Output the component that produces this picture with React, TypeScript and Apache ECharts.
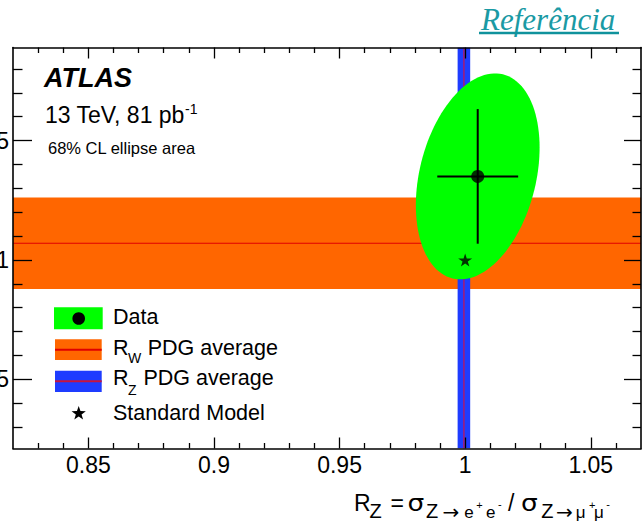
import React, { useEffect, useRef } from "react";
import * as echarts from "echarts";

// ---- data ----
const X_RANGE = [0.82, 1.07];
const Y_RANGE = [0.921, 1.089];
const X_MAJOR_TICKS = [0.85, 0.9, 0.95, 1, 1.05];
const X_MINOR_TICKS = [0.83, 0.84, 0.86, 0.87, 0.88, 0.89, 0.91, 0.92, 0.93, 0.94, 0.96, 0.97, 0.98, 0.99, 1.01, 1.02, 1.03, 1.04, 1.06];
const Y_MAJOR_TICKS = [0.95, 1, 1.05];
const Y_MINOR_TICKS = [0.93, 0.94, 0.96, 0.97, 0.98, 0.99, 1.01, 1.02, 1.03, 1.04, 1.06, 1.07, 1.08];
const DATA_POINT = [1.005, 1.035];
const DATA_ERROR = [0.0161, 0.0282];
const DATA_CORRELATION = 0.28;
const ELLIPSE_SCALE = 1.53; // 68% CL ellipse size relative to 1 sigma
const RW_PDG = [1.007, 0.0192]; // centre, half-width (y)
const RZ_PDG = [0.9995, 0.0025]; // centre, half-width (x)
const SM_POINT = [1, 1];

const FONT = '"Liberation Sans", Arial, Helvetica, sans-serif';
const DJV = '"DejaVu Sans", sans-serif';
const OFF = 60; // chart extends beyond the left edge of the page
const GREEN = "#00ff00";
const ORANGE = "#ff6600";
const BLUE = "#1e3cff";
const STAR_PATH = "path://M50,0 L61,35 L98,35 L68,57 L79,91 L50,70 L21,91 L32,57 L2,35 L39,35 Z";

function axisCfg(kind: "x" | "y", position: string, ticks: number[], len: number, labels: number[] | null, line: boolean) {
  const range = kind === "x" ? X_RANGE : Y_RANGE;
  return {
    type: "value",
    position,
    min: range[0],
    max: range[1],
    z: 10,
    splitLine: { show: false },
    axisLine: { show: line, onZero: false, lineStyle: { color: "#000", width: 1.6 } },
    axisTick: { show: true, inside: true, length: len, customValues: ticks, lineStyle: { color: "#000", width: 1.3 } },
    axisLabel: labels
      ? { show: true, customValues: labels, fontSize: 23, fontFamily: FONT, color: "#000", margin: kind === "x" ? 5 : 4 }
      : { show: false },
  };
}

function txt(text: string, x: number, y: number, size: number, extra: any = {}) {
  return {
    type: "text",
    x: x + OFF,
    y,
    z: 20,
    scaleX: extra.scaleX || 1,
    style: {
      text,
      fill: extra.fill || "#000",
      font: `${extra.style || "normal"} ${extra.weight || "normal"} ${size}px ${extra.family || FONT}`,
      align: "left",
      verticalAlign: "middle",
    },
  };
}

function starPoints(cx: number, cy: number, ro: number, ri: number) {
  const pts: number[][] = [];
  for (let i = 0; i < 10; i++) {
    const r = i % 2 === 0 ? ro : ri;
    const a = -Math.PI / 2 + (i * Math.PI) / 5;
    pts.push([cx + OFF + r * Math.cos(a), cy + r * Math.sin(a)]);
  }
  return pts;
}

export default function App() {
  const ref = useRef<HTMLDivElement>(null);
  useEffect(() => {
    if (!ref.current) return;
    const chart = echarts.init(ref.current, null, { renderer: "svg" });

    const titlePieces: [string, number, number, number, number?, string?][] = [
      ["R", 354, 502.5, 23],
      ["Z", 369.5, 510.8, 20],
      ["=", 390.5, 502.5, 23],
      ["σ", 407.5, 503, 23, 1.15, DJV],
      ["Z", 426, 510.8, 20],
      ["→", 442.5, 511.5, 20, 1, DJV],
      ["e", 464.3, 512.6, 17],
      ["+", 476.3, 504.5, 11],
      ["e", 486, 512.6, 17],
      ["-", 497.9, 503.5, 11],
      ["/", 508, 502.5, 23],
      ["σ", 521, 503, 23, 1.15, DJV],
      ["Z", 541.2, 510.8, 20],
      ["→", 556, 511.5, 20, 1, DJV],
      ["μ", 575.7, 512.6, 17],
      ["+", 589, 504.5, 11],
      ["μ", 594, 512.6, 17],
      ["-", 606.3, 503.5, 11],
    ];

    const option: any = {
      animation: false,
      backgroundColor: "#fff",
      grid: { left: 13 + OFF, top: 47.5, right: 704 - (641 + OFF), bottom: 531 - 448.5, show: false },
      xAxis: [
        axisCfg("x", "bottom", X_MAJOR_TICKS, 11, X_MAJOR_TICKS, true),
        axisCfg("x", "bottom", X_MINOR_TICKS, 5.5, null, false),
        axisCfg("x", "top", X_MAJOR_TICKS, 11, null, true),
        axisCfg("x", "top", X_MINOR_TICKS, 5.5, null, false),
      ],
      yAxis: [
        axisCfg("y", "left", Y_MAJOR_TICKS, 19, Y_MAJOR_TICKS, true),
        axisCfg("y", "left", Y_MINOR_TICKS, 9.5, null, false),
        axisCfg("y", "right", Y_MAJOR_TICKS, 17, null, true),
        axisCfg("y", "right", Y_MINOR_TICKS, 8.5, null, false),
      ],
      series: [
        {
          type: "custom",
          name: "RW PDG",
          z: 1,
          clip: true,
          data: [RW_PDG],
          renderItem: (params: any, api: any) => {
            const c = api.value(0);
            const e = api.value(1);
            const cs = params.coordSys;
            const top = api.coord([X_RANGE[0], c + e])[1];
            const bot = api.coord([X_RANGE[0], c - e])[1];
            const mid = api.coord([X_RANGE[0], c])[1];
            return {
              type: "group",
              children: [
                { type: "rect", shape: { x: cs.x, y: top, width: cs.width, height: bot - top }, style: { fill: ORANGE } },
                { type: "line", shape: { x1: cs.x, y1: mid, x2: cs.x + cs.width, y2: mid }, style: { stroke: "#e00000", lineWidth: 1.2 } },
              ],
            };
          },
        },
        {
          type: "custom",
          name: "RZ PDG",
          z: 2,
          clip: true,
          data: [RZ_PDG],
          renderItem: (params: any, api: any) => {
            const c = api.value(0);
            const e = api.value(1);
            const cs = params.coordSys;
            const l = api.coord([c - e, Y_RANGE[0]])[0];
            const r = api.coord([c + e, Y_RANGE[0]])[0];
            const mid = api.coord([c, Y_RANGE[0]])[0];
            return {
              type: "group",
              children: [
                { type: "rect", shape: { x: l, y: cs.y, width: r - l, height: cs.height }, style: { fill: BLUE } },
                { type: "line", shape: { x1: mid, y1: cs.y, x2: mid, y2: cs.y + cs.height }, style: { stroke: "#b0186a", lineWidth: 1.4 } },
              ],
            };
          },
        },
        {
          type: "custom",
          name: "Ellipse",
          z: 3,
          data: [[DATA_POINT[0], DATA_POINT[1], DATA_ERROR[0], DATA_ERROR[1]]],
          renderItem: (params: any, api: any) => {
            const cx = api.value(0);
            const cy = api.value(1);
            const sx = api.value(2) * ELLIPSE_SCALE;
            const sy = api.value(3) * ELLIPSE_SCALE;
            const rho = DATA_CORRELATION;
            const pts: number[][] = [];
            for (let i = 0; i < 120; i++) {
              const t = (i / 120) * Math.PI * 2;
              const dx = sx * Math.cos(t);
              const dy = sy * (rho * Math.cos(t) + Math.sqrt(1 - rho * rho) * Math.sin(t));
              pts.push(api.coord([cx + dx, cy + dy]));
            }
            return { type: "polygon", shape: { points: pts }, style: { fill: GREEN } };
          },
        },
        {
          type: "custom",
          name: "Errors",
          z: 4,
          data: [[DATA_POINT[0], DATA_POINT[1], DATA_ERROR[0], DATA_ERROR[1]]],
          renderItem: (params: any, api: any) => {
            const cx = api.value(0);
            const cy = api.value(1);
            const ex = api.value(2);
            const ey = api.value(3);
            const a = api.coord([cx - ex, cy]);
            const b = api.coord([cx + ex, cy]);
            const c = api.coord([cx, cy - ey]);
            const d = api.coord([cx, cy + ey]);
            return {
              type: "group",
              children: [
                { type: "line", shape: { x1: a[0], y1: a[1], x2: b[0], y2: b[1] }, style: { stroke: "#000", lineWidth: 2 } },
                { type: "line", shape: { x1: c[0], y1: c[1], x2: d[0], y2: d[1] }, style: { stroke: "#000", lineWidth: 2 } },
              ],
            };
          },
        },
        {
          type: "scatter",
          name: "Data",
          z: 5,
          symbol: "circle",
          symbolSize: 13,
          itemStyle: { color: "#000" },
          data: [DATA_POINT],
        },
        {
          type: "scatter",
          name: "Standard Model",
          z: 6,
          symbol: STAR_PATH,
          symbolSize: [14, 13],
          itemStyle: { color: "#000" },
          data: [SM_POINT],
        },
      ],
      graphic: [
        // header texts
        txt("Referência", 481, 19, 31, { fill: "#1a9aa4", style: "italic", family: '"Liberation Serif", "Times New Roman", serif' }),
        { type: "rect", z: 20, shape: { x: 479 + OFF, y: 31.7, width: 140, height: 2.6 }, style: { fill: "#10929c" } },
        txt("ATLAS", 44, 77.5, 27, { style: "italic", weight: "bold" }),
        txt("13 TeV, 81 pb", 45, 115, 23),
        txt("-1", 185, 108.5, 14),
        txt("68% CL ellipse area", 48, 148.3, 16.5),
        // legend
        { type: "rect", z: 20, shape: { x: 54 + OFF, y: 307.3, width: 48.7, height: 22 }, style: { fill: GREEN } },
        { type: "circle", z: 21, shape: { cx: 78.7 + OFF, cy: 318.5, r: 6.3 }, style: { fill: "#000" } },
        { type: "rect", z: 20, shape: { x: 55 + OFF, y: 339.3, width: 46.7, height: 20.7 }, style: { fill: ORANGE } },
        { type: "line", z: 21, shape: { x1: 55 + OFF, y1: 349.7, x2: 101.7 + OFF, y2: 349.7 }, style: { stroke: "#e00000", lineWidth: 2 } },
        { type: "rect", z: 20, shape: { x: 55 + OFF, y: 370.7, width: 46.7, height: 21.3 }, style: { fill: BLUE } },
        { type: "line", z: 21, shape: { x1: 55 + OFF, y1: 381.3, x2: 101.7 + OFF, y2: 381.3 }, style: { stroke: "#c8143c", lineWidth: 2 } },
        { type: "polygon", z: 21, shape: { points: starPoints(78.7, 413.5, 7.5, 3) }, style: { fill: "#000" } },
        txt("Data", 113, 316.8, 21.5),
        txt("R", 113, 347.5, 21.5),
        txt("W", 128, 358.3, 14),
        txt(" PDG average", 141.7, 347.5, 21.5),
        txt("R", 113, 378.3, 21.5),
        txt("Z", 128, 389.5, 14),
        txt(" PDG average", 137.5, 378.3, 21.5),
        txt("Standard Model", 113, 412.5, 21.5),
        // x-axis title
        ...titlePieces.map(([s, x, y, size, sx, fam]) => txt(s, x, y, size, { scaleX: sx || 1, family: fam })),
      ],
    };

    chart.setOption(option);
    return () => chart.dispose();
  }, []);

  return (
    <div
      ref={ref}
      style={{ position: "absolute", left: -OFF, top: 0, width: 644 + OFF, height: 531 }}
    />
  );
}
